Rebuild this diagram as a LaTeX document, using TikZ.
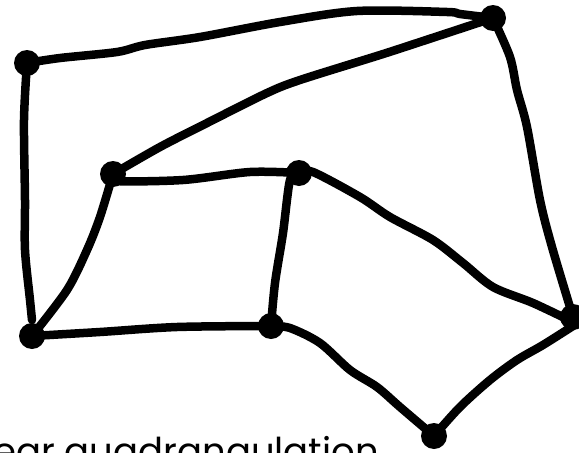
\documentclass[tikz,border=0pt]{standalone}
\usepackage{fontspec}
\setmainfont{Poppins}
\begin{document}
\begin{tikzpicture}[x=1pt,y=-1pt,
  edge/.style={line width=8.5pt,line cap=round,line join=round},
  dot/.style={circle,fill=black,inner sep=0pt,minimum size=26pt}]
\useasboundingbox (0,0) rectangle (579,453);
\coordinate (A) at (27,63);
\coordinate (B) at (493,18);
\coordinate (C) at (113,174);
\coordinate (D) at (299,173);
\coordinate (E) at (32,336);
\coordinate (F) at (271,326);
\coordinate (G) at (573,317);
\coordinate (H) at (434,436);
% edges
\draw[edge] plot[smooth,tension=0.5] coordinates {(A) (60,58) (117,52) (145,45) (200,37) (280,22) (357,11) (447,12) (460,14) (B)};
\draw[edge] plot[smooth,tension=0.5] coordinates {(B) (420,42) (380,55) (300,80) (267,93) (207,123) (160,147) (C)};
\draw[edge] plot[smooth,tension=0.5] coordinates {(B) (510,57) (517,90) (527,127) (540,200) (552,247) (G)};
\draw[edge] plot[smooth,tension=0.5] coordinates {(A) (24,120) (25,200) (25,250) (30,300) (32,320)};
\draw[edge] plot[smooth,tension=0.5] coordinates {(C) (115,181) (183,180) (250,172) (D)};
\draw[edge] plot[smooth,tension=0.5] coordinates {(C) (100,217) (87,250) (67,290) (E)};
\draw[edge] plot[smooth,tension=0.5] coordinates {(D) (290,180) (283,233) (275,283) (F)};
\draw[edge] plot[smooth,tension=0.5] coordinates {(D) (313,172) (360,197) (390,217) (433,240) (463,263) (493,287) (533,303) (573,322)};
\draw[edge] plot[smooth,tension=0.5] coordinates {(E) (100,332) (177,327) (F)};
\draw[edge] plot[smooth,tension=0.5] coordinates {(F) (290,328) (320,343) (350,370) (377,387) (400,407) (H)};
\draw[edge] plot[smooth,tension=0.5] coordinates {(H) (460,407) (490,380) (517,360) (543,345) (573,326)};
% vertices
\foreach \v in {A,B,C,D,E,F,G,H} \node[dot] (n\v) at (\v) {};
% label
\node[anchor=base west,inner sep=0pt,font=\fontsize{37}{40}\selectfont] (lbl) at (-7,464) {ear quadrangulation};
\end{tikzpicture}
\end{document}
